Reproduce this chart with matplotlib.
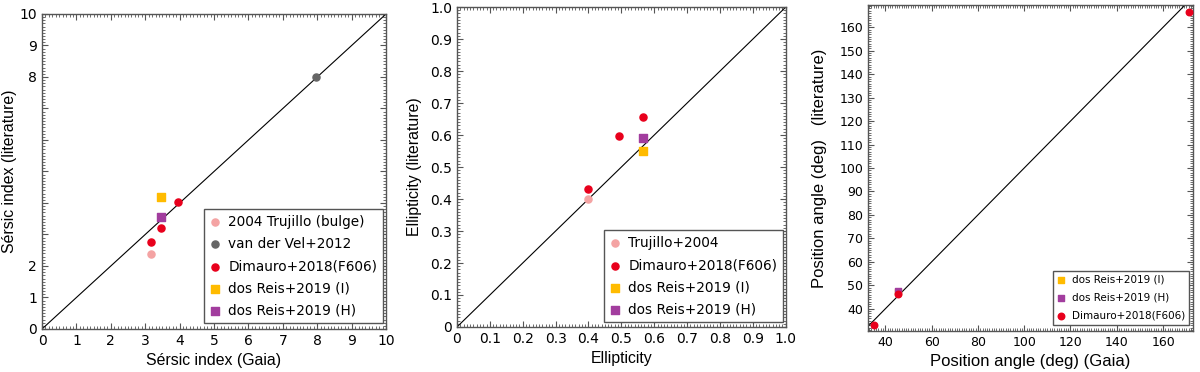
import matplotlib
matplotlib.use('Agg')
import matplotlib.pyplot as plt
from matplotlib.ticker import AutoMinorLocator

plt.rcParams['font.family'] = ['DejaVu Sans']

# Sersic index panel
n_trujillo_x = [3.18]
n_trujillo_y = [2.39]
n_vdvel_x = [7.97]
n_vdvel_y = [8.0]
n_dimauro_x = [3.95, 3.45, 3.18]
n_dimauro_y = [4.04, 3.20, 2.77]
n_reis_i_x = [3.45]
n_reis_i_y = [4.20]
n_reis_h_x = [3.45]
n_reis_h_y = [3.55]
n_yticks = [0, 1, 2, 3, 4, 5, 6, 7, 8, 9, 10]
n_ylabels = ['0', '1', '2', '', '', '', '', '', '8', '9', '10']

# ellipticity panel
e_trujillo_x = [0.399]
e_trujillo_y = [0.399]
e_dimauro_x = [0.399, 0.494, 0.566]
e_dimauro_y = [0.430, 0.596, 0.657]
e_reis_i_x = [0.566]
e_reis_i_y = [0.550]
e_reis_h_x = [0.566]
e_reis_h_y = [0.591]

# position angle panel
pa_reis_i_x = [45.3]
pa_reis_i_y = [47.0]
pa_reis_h_x = [45.3]
pa_reis_h_y = [47.5]
pa_dimauro_x = [35.1, 45.3, 171.2]
pa_dimauro_y = [32.9, 46.1, 166.7]

PINK = '#f4a3a3'
GREY = '#666666'
RED = '#e8001c'
ORANGE = '#ffbb00'
PURPLE = '#a23d9e'
FRAME = '#555555'
LABEL_SIZE = 11.4


def style(ax, xminor, yminor):
    for s in ax.spines.values():
        s.set_color(FRAME)
        s.set_linewidth(1.0)
    ax.xaxis.set_minor_locator(AutoMinorLocator(xminor))
    ax.yaxis.set_minor_locator(AutoMinorLocator(yminor))
    ax.tick_params(which='both', direction='in', top=True, right=True,
                   color=FRAME, labelsize=10)
    ax.tick_params(which='major', length=4)
    ax.tick_params(which='minor', length=2)


def legend(ax, anchor, size, spacing=0.55):
    leg = ax.legend(loc='lower right', bbox_to_anchor=anchor, fancybox=False,
                    edgecolor=FRAME, framealpha=1, fontsize=size,
                    handlelength=0.8, handletextpad=0.6, borderpad=0.4,
                    labelspacing=spacing, borderaxespad=0)
    leg.get_frame().set_linewidth(1.0)


fig = plt.figure(figsize=(12, 3.72), dpi=100)

ax1 = fig.add_axes([0.035, 0.1156, 0.2867, 0.8468])
ax1.plot([0, 10], [0, 10], color='black', lw=0.8)
ax1.scatter(n_trujillo_x, n_trujillo_y, s=26, color=PINK, marker='o', label='2004 Trujillo (bulge)', zorder=3)
ax1.scatter(n_vdvel_x, n_vdvel_y, s=26, color=GREY, marker='o', label='van der Vel+2012', zorder=3)
ax1.scatter(n_dimauro_x, n_dimauro_y, s=26, color=RED, marker='o', label='Dimauro+2018(F606)', zorder=3)
ax1.scatter(n_reis_i_x, n_reis_i_y, s=30, color=ORANGE, marker='s', label='dos Reis+2019 (I)', zorder=3)
ax1.scatter(n_reis_h_x, n_reis_h_y, s=30, color=PURPLE, marker='s', label='dos Reis+2019 (H)', zorder=3)
ax1.set_xlim(0, 10)
ax1.set_ylim(0, 10)
ax1.set_xticks(range(0, 11))
ax1.set_yticks(n_yticks)
ax1.set_yticklabels(n_ylabels)
style(ax1, 10, 10)
ax1.set_xlabel('Sérsic index (Gaia)', fontsize=LABEL_SIZE, family='Liberation Sans')
ax1.set_ylabel('Sérsic index (literature)', fontsize=LABEL_SIZE, family='Liberation Sans', labelpad=2)
legend(ax1, (0.991, 0.019), 9.8, 0.6)

ax2 = fig.add_axes([0.3808, 0.121, 0.274, 0.860])
ax2.plot([0, 1], [0, 1], color='black', lw=0.8)
ax2.scatter(e_trujillo_x, e_trujillo_y, s=26, color=PINK, marker='o', label='Trujillo+2004', zorder=3)
ax2.scatter(e_dimauro_x, e_dimauro_y, s=26, color=RED, marker='o', label='Dimauro+2018(F606)', zorder=3)
ax2.scatter(e_reis_i_x, e_reis_i_y, s=30, color=ORANGE, marker='s', label='dos Reis+2019 (I)', zorder=3)
ax2.scatter(e_reis_h_x, e_reis_h_y, s=30, color=PURPLE, marker='s', label='dos Reis+2019 (H)', zorder=3)
ax2.set_xlim(0, 1)
ax2.set_ylim(0, 1)
ticks = [i / 10 for i in range(11)]
labels = ['0'] + ['%.1f' % t for t in ticks[1:]]
ax2.set_xticks(ticks)
ax2.set_xticklabels(labels)
ax2.set_yticks(ticks)
ax2.set_yticklabels(labels)
style(ax2, 10, 10)
ax2.set_xlabel('Ellipticity', fontsize=LABEL_SIZE, family='Liberation Sans')
ax2.set_ylabel('Ellipticity (literature)', fontsize=LABEL_SIZE, family='Liberation Sans', labelpad=6)
legend(ax2, (0.991, 0.016), 9.8, 0.6)

ax3 = fig.add_axes([0.7233, 0.110, 0.2708, 0.876])
ax3.plot([32.5, 172.9], [32.5, 172.9], color='black', lw=0.8)
ax3.scatter(pa_reis_i_x, pa_reis_i_y, s=24, color=ORANGE, marker='s', label='dos Reis+2019 (I)', zorder=3)
ax3.scatter(pa_reis_h_x, pa_reis_h_y, s=24, color=PURPLE, marker='s', label='dos Reis+2019 (H)', zorder=3)
ax3.scatter(pa_dimauro_x, pa_dimauro_y, s=22, color=RED, marker='o', label='Dimauro+2018(F606)', zorder=3)
ax3.set_xlim(32.5, 172.9)
ax3.set_ylim(30.5, 169.4)
ax3.set_xticks(range(40, 161, 20))
ax3.set_yticks(range(40, 161, 10))
style(ax3, 20, 10)
ax3.tick_params(labelsize=9)
ax3.set_xlabel('Position angle (deg) (Gaia)', fontsize=LABEL_SIZE + 0.6, family='Liberation Sans')
ax3.set_ylabel('Position angle (deg)   (literature)', fontsize=LABEL_SIZE + 0.6, family='Liberation Sans', labelpad=9)
legend(ax3, (0.988, 0.02), 7.5, 0.75)

fig.savefig('out.png', dpi=100)
